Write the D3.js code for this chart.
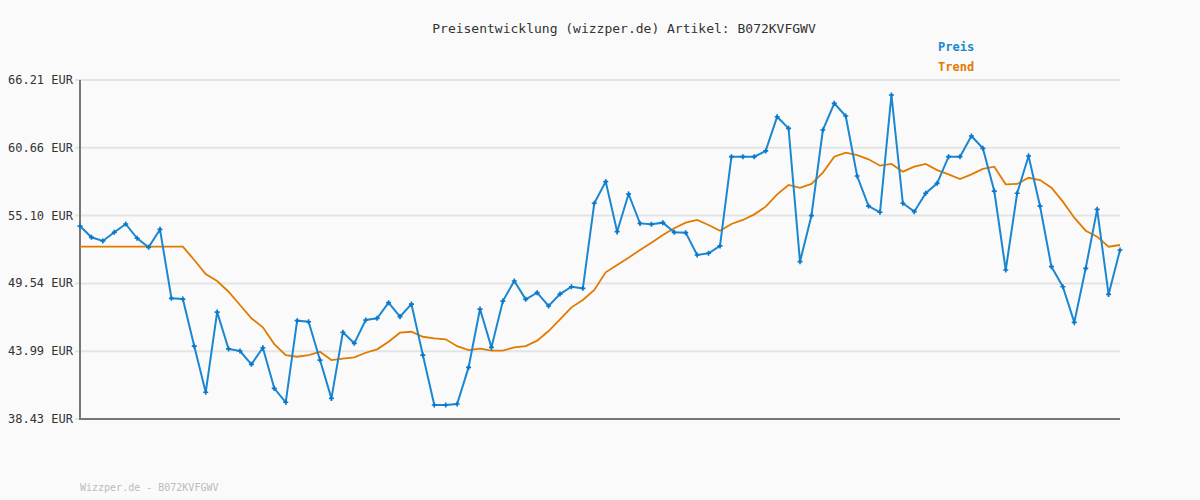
<!DOCTYPE html>
<html><head><meta charset="utf-8">
<script src="https://cdn.jsdelivr.net/npm/d3@7/dist/d3.min.js"></script>
<style>body{margin:0;background:#fafafa}</style></head>
<body><svg id="c" width="1200" height="500"></svg>
<script>
const preis=[54.24,53.32,53.02,53.73,54.41,53.24,52.50,53.97,48.32,48.26,44.40,40.62,47.19,44.17,44.00,42.91,44.27,40.94,39.80,46.49,46.40,43.26,40.12,45.54,44.63,46.54,46.68,47.96,46.82,47.85,43.67,39.58,39.58,39.66,42.66,47.44,44.30,48.09,49.74,48.24,48.78,47.69,48.67,49.27,49.14,56.11,57.88,53.78,56.87,54.46,54.38,54.52,53.73,53.70,51.87,52.01,52.61,59.93,59.93,59.93,60.40,63.20,62.25,51.32,55.09,62.11,64.30,63.26,58.34,55.88,55.37,64.98,56.11,55.42,56.93,57.74,59.93,59.93,61.62,60.61,57.11,50.64,56.93,59.98,55.88,50.91,49.27,46.35,50.78,55.61,48.64,52.28];
const trend=[52.55,52.55,52.55,52.55,52.55,52.55,52.55,52.55,52.55,52.55,51.46,50.31,49.74,48.86,47.77,46.68,45.94,44.57,43.67,43.53,43.67,43.94,43.26,43.37,43.48,43.86,44.14,44.76,45.50,45.58,45.17,45.04,44.96,44.40,44.08,44.19,44.03,44.03,44.30,44.40,44.85,45.64,46.60,47.58,48.18,49.00,50.45,51.05,51.65,52.28,52.88,53.51,54.06,54.52,54.74,54.33,53.86,54.41,54.74,55.20,55.83,56.84,57.61,57.38,57.69,58.62,59.93,60.25,60.06,59.71,59.19,59.33,58.70,59.11,59.33,58.83,58.48,58.10,58.48,58.92,59.11,57.66,57.69,58.20,58.01,57.38,56.24,54.93,53.86,53.37,52.55,52.69];
const yTicks=[38.43,43.99,49.54,55.10,60.66,66.21];
const title="Preisentwicklung (wizzper.de) Artikel: B072KVFGWV";
const footer="Wizzper.de - B072KVFGWV";
const svg=d3.select("#c");
const font="'DejaVu Sans Mono', monospace";
const x=d3.scaleLinear().domain([0,preis.length-1]).range([80,1120]);
const y=d3.scaleLinear().domain([38.43,66.21]).range([419,80]);
svg.append("rect").attr("width",1200).attr("height",500).attr("fill","#fafafa");
svg.append("g").selectAll("line").data(yTicks).join("line")
 .attr("x1",75).attr("x2",1120).attr("y1",d=>y(d)).attr("y2",d=>y(d))
 .attr("stroke","#e4e4e4").attr("stroke-width",2);
svg.append("g").selectAll("text").data(yTicks).join("text")
 .attr("x",73).attr("y",d=>y(d)+4).attr("text-anchor","end")
 .attr("font-family",font).attr("font-size",12).attr("fill","#333")
 .text(d=>d.toFixed(2)+" EUR");
svg.append("line").attr("x1",80).attr("x2",80).attr("y1",80).attr("y2",419).attr("stroke","#777").attr("stroke-width",2);
svg.append("line").attr("x1",79).attr("x2",1120).attr("y1",419).attr("y2",419).attr("stroke","#777").attr("stroke-width",2);
const line=d3.line().x((d,i)=>x(i)).y(d=>y(d));
svg.append("path").attr("d",line(trend)).attr("fill","none").attr("stroke","#e07b00").attr("stroke-width",1.8);
svg.append("path").attr("d",line(preis)).attr("fill","none").attr("stroke","#1a87d0").attr("stroke-width",2);
svg.append("g").selectAll("path").data(preis).join("path")
 .attr("d",d3.symbol(d3.symbolCross,14)).attr("transform",(d,i)=>`translate(${x(i)},${y(d)})`).attr("fill","#0a77c8");
svg.append("text").attr("x",624).attr("y",33).attr("text-anchor","middle").attr("font-family",font).attr("font-size",13).attr("fill","#333").text(title);
svg.append("text").attr("x",938).attr("y",51).attr("font-family",font).attr("font-size",12).attr("font-weight","bold").attr("fill","#1a87d0").text("Preis");
svg.append("text").attr("x",938).attr("y",71).attr("font-family",font).attr("font-size",12).attr("font-weight","bold").attr("fill","#e07b00").text("Trend");
svg.append("text").attr("x",80).attr("y",491).attr("font-family",font).attr("font-size",10).attr("fill","#bbb").text(footer);
</script></body></html>
